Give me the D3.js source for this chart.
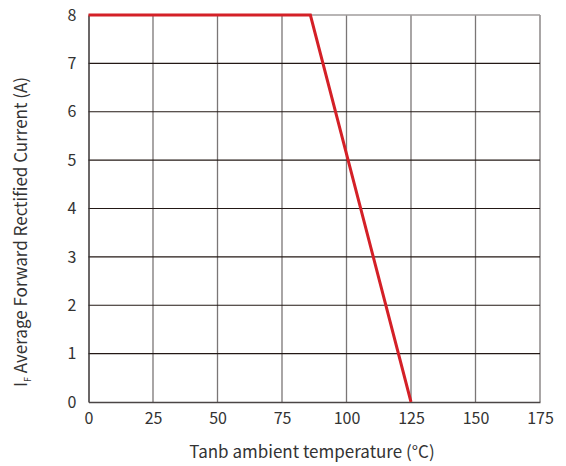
<!DOCTYPE html>
<html>
<head>
<meta charset="utf-8">
<script src="https://cdn.jsdelivr.net/npm/d3@7"></script>
<style>
  body { margin: 0; background: #fff; }
  text { font-family: "Noto Sans CJK SC", "Noto Sans", sans-serif; fill: #333; }
</style>
</head>
<body>
<svg width="566" height="466"></svg>
<script>
// derating curve: temperature (°C) vs current (A)
const temps = [0, 86, 125]
const amps = [8, 8, 0]
const xTicks = [0, 25, 50, 75, 100, 125, 150, 175]
const yTicks = [0, 1, 2, 3, 4, 5, 6, 7, 8]

const svg = d3.select('svg')
const margin = { top: 15, right: 26, bottom: 64, left: 88.5 }
const innerWidth = 566 - margin.left - margin.right
const innerHeight = 466 - margin.top - margin.bottom

const xScale = d3.scaleLinear().domain([0, 175]).range([0, innerWidth])
const yScale = d3.scaleLinear().domain([0, 8]).range([innerHeight, 0])

const g = svg.append('g')
    .attr('transform', `translate(${margin.left}, ${margin.top})`)

// vertical grid (grey)
g.append('g')
    .selectAll('line')
    .data(xTicks.slice(1))
    .join('line')
      .attr('x1', d => xScale(d))
      .attr('x2', d => xScale(d))
      .attr('y1', 0)
      .attr('y2', innerHeight)
      .attr('stroke', '#7a7676')
      .attr('stroke-width', 1.3)

// horizontal grid (dark)
g.append('g')
    .selectAll('line')
    .data(yTicks.slice(1, -1))
    .join('line')
      .attr('x1', 0)
      .attr('x2', innerWidth)
      .attr('y1', d => yScale(d))
      .attr('y2', d => yScale(d))
      .attr('stroke', '#231815')
      .attr('stroke-width', 1.2)

// top border
g.append('line')
    .attr('x1', 0).attr('x2', innerWidth)
    .attr('y1', 0).attr('y2', 0)
    .attr('stroke', '#a09c9c')
    .attr('stroke-width', 1.5)

// left axis
g.append('g')
    .call(d3.axisLeft(yScale).tickValues(yTicks).tickSize(0).tickPadding(12))
    .call(ax => ax.select('.domain').attr('stroke', '#3a3434').attr('stroke-width', 1.5))
    .call(ax => ax.selectAll('text').style('font-size', '16px').attr('fill', '#333'))

// bottom axis
g.append('g')
    .attr('transform', `translate(0, ${innerHeight})`)
    .call(d3.axisBottom(xScale).tickValues(xTicks).tickSize(0).tickPadding(11))
    .call(ax => ax.select('.domain').attr('stroke', '#4a4545').attr('stroke-width', 1.5))
    .call(ax => ax.selectAll('text').style('font-size', '16px').attr('fill', '#333'))

// curve
const line = d3.line()
    .x((d, i) => xScale(temps[i]))
    .y(d => yScale(d))

g.append('path')
    .datum(amps)
    .attr('d', line)
    .attr('fill', 'none')
    .attr('stroke', '#d42027')
    .attr('stroke-width', 3)
    .attr('stroke-linejoin', 'miter')

// axis titles
svg.append('text')
    .attr('x', 312)
    .attr('y', 458)
    .attr('text-anchor', 'middle')
    .style('font-size', '17px')
    .text('Tanb ambient temperature (°C)')

const yTitle = svg.append('text')
    .attr('transform', 'translate(27, 232) rotate(-90)')
    .attr('text-anchor', 'middle')
    .style('font-size', '17px')
yTitle.append('tspan').text('I')
yTitle.append('tspan').attr('dy', 4).style('font-size', '9px').text('F')
yTitle.append('tspan').attr('dy', -4).text(' Average Forward Rectified Current (A)')
</script>
</body>
</html>
